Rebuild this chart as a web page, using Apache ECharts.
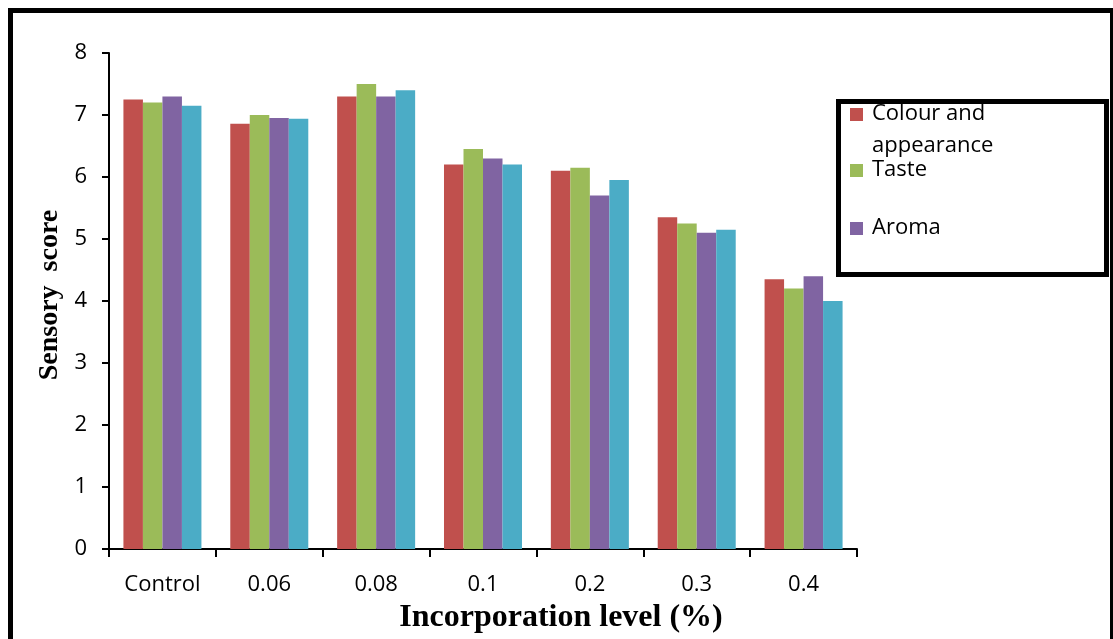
<!DOCTYPE html>
<html>
<head>
<meta charset="utf-8">
<script src="https://cdn.jsdelivr.net/npm/echarts@6/dist/echarts.min.js"></script>
<style>
html,body{margin:0;padding:0;background:#fff;}
#chart{width:1113px;height:639px;}
</style>
</head>
<body>
<div id="chart"></div>
<script>
var categories = ['Control', '0.06', '0.08', '0.1', '0.2', '0.3', '0.4'];
var seriesNames = ['Colour and appearance', 'Taste', 'Aroma', 'Overall acceptability'];
var legendLabels = ['Colour and\nappearance', 'Taste', 'Aroma'];
var colourAppearance = [7.25, 6.86, 7.3, 6.2, 6.1, 5.35, 4.35];
var taste = [7.2, 7.0, 7.5, 6.45, 6.15, 5.25, 4.2];
var aroma = [7.3, 6.95, 7.3, 6.3, 5.7, 5.1, 4.4];
var overall = [7.15, 6.94, 7.4, 6.2, 5.95, 5.15, 4.0];
var yTicks = [0, 1, 2, 3, 4, 5, 6, 7, 8];
var colors = ['#C0504D', '#9BBB59', '#8064A2', '#4BACC6'];

var values = [colourAppearance, taste, aroma, overall];
var chart = echarts.init(document.getElementById('chart'));

var graphics = [
  {
    type: 'rect', left: 8, top: 8, z: 100,
    shape: { width: 1102, height: 700 },
    style: { fill: 'none', stroke: '#000', lineWidth: 5 }
  },
  {
    type: 'rect', left: 836, top: 99, z: 100,
    shape: { width: 268, height: 173 },
    style: { fill: '#fff', stroke: '#000', lineWidth: 5 }
  }
];
var legendY = [115, 171, 229];
legendLabels.forEach(function (lab, i) {
  graphics.push({
    type: 'rect', left: 850, top: legendY[i] - 7, z: 110,
    shape: { width: 13, height: 13 },
    style: { fill: colors[i] }
  });
  graphics.push({
    type: 'text', left: 872, top: legendY[i] - 17, z: 110,
    style: {
      text: lab, fill: '#000',
      fontSize: 22, fontFamily: 'Open Sans',
      lineHeight: 32
    }
  });
});

var option = {
  animation: false,
  backgroundColor: '#fff',
  grid: { left: 109, right: 256, top: 53, bottom: 89 },
  xAxis: {
    type: 'category',
    data: categories,
    axisLine: { lineStyle: { color: '#000', width: 2 } },
    axisTick: { show: true, length: 8, lineStyle: { color: '#000', width: 2 } },
    axisLabel: { color: '#000', fontSize: 22, fontFamily: 'Open Sans', margin: 25 },
    name: 'Incorporation level (%)',
    nameLocation: 'middle',
    nameGap: 53,
    nameTextStyle: {
      color: '#000', fontSize: 32, fontWeight: 'bold',
      fontFamily: 'Liberation Serif',
      padding: [0, 0, 0, 156]
    }
  },
  yAxis: {
    type: 'value',
    min: yTicks[0], max: yTicks[yTicks.length - 1], interval: 1,
    splitLine: { show: false },
    axisLine: { show: true, lineStyle: { color: '#000', width: 2 } },
    axisTick: { show: true, length: 7, lineStyle: { color: '#000', width: 2 } },
    axisLabel: { color: '#000', fontSize: 22, fontFamily: 'Open Sans', margin: 22 },
    name: 'Sensory  score',
    nameLocation: 'middle',
    nameGap: 44,
    nameTextStyle: {
      color: '#000', fontSize: 28, fontWeight: 'bold',
      fontFamily: 'Liberation Serif',
      padding: [0, 0, 0, 12]
    }
  },
  series: seriesNames.map(function (n, i) {
    return {
      name: n, type: 'bar', data: values[i],
      barGap: '0%', barCategoryGap: '27%',
      itemStyle: { color: colors[i] }
    };
  }),
  graphic: graphics
};
chart.setOption(option);
</script>
</body>
</html>
